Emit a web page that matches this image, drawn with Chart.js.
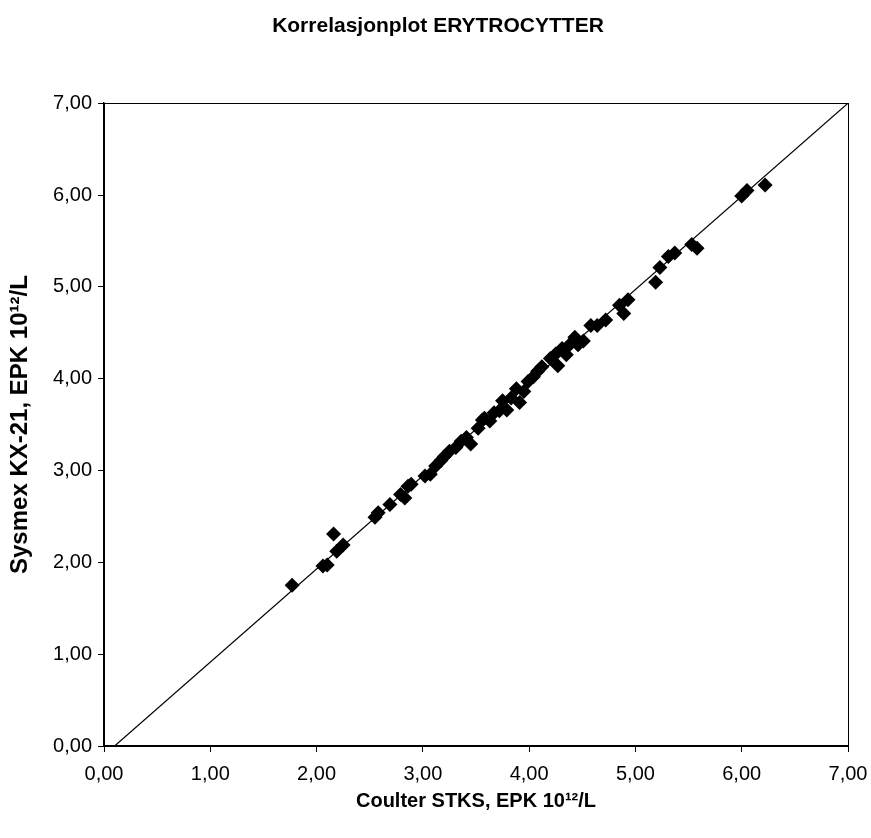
<!DOCTYPE html>
<html>
<head>
<meta charset="utf-8">
<script src="https://cdn.jsdelivr.net/npm/chart.js@4.4.1/dist/chart.umd.min.js"></script>
<style>
  html, body { margin: 0; padding: 0; background: #ffffff; }
  canvas { display: block; }
</style>
</head>
<body>
<canvas id="c" width="871" height="838"></canvas>
<script>
// Coulter STKS (x) vs Sysmex KX-21 (y), EPK 10^12/L
const coulterX = [1.77, 2.06, 2.10, 2.16, 2.19, 2.25, 2.55, 2.58, 2.69, 2.79, 2.83, 2.86, 2.89,
  3.02, 3.07, 3.12, 3.17, 3.20, 3.25, 3.31, 3.36, 3.41, 3.45, 3.52, 3.56, 3.58, 3.63, 3.67,
  3.72, 3.75, 3.79, 3.83, 3.88, 3.91, 3.95, 3.99, 4.04, 4.08, 4.12, 4.20, 4.25, 4.27, 4.31,
  4.35, 4.38, 4.43, 4.46, 4.51, 4.58, 4.64, 4.72, 4.85, 4.89, 4.93, 5.19, 5.23, 5.31, 5.37,
  5.53, 5.58, 6.00, 6.05, 6.22];
const sysmexY = [1.75, 1.96, 1.97, 2.31, 2.12, 2.19, 2.49, 2.54, 2.63, 2.74, 2.70, 2.83, 2.85,
  2.94, 2.96, 3.05, 3.11, 3.15, 3.21, 3.25, 3.32, 3.36, 3.29, 3.46, 3.55, 3.57, 3.54, 3.63,
  3.65, 3.76, 3.66, 3.79, 3.89, 3.74, 3.86, 3.97, 4.02, 4.08, 4.13, 4.22, 4.27, 4.14, 4.33,
  4.26, 4.37, 4.45, 4.37, 4.41, 4.58, 4.58, 4.64, 4.80, 4.71, 4.86, 5.05, 5.21, 5.33, 5.37,
  5.46, 5.42, 5.99, 6.05, 6.11];
// Fitted line end points
const lineX = [0.10, 7.00];
const lineY = [0.00, 7.00];
const tickValues = [0, 1, 2, 3, 4, 5, 6, 7];

const titleText = 'Korrelasjonplot ERYTROCYTTER';
const xTitle = 'Coulter STKS, EPK 10¹²/L';
const yTitle = 'Sysmex KX-21, EPK 10¹²/L';

const scatterData = coulterX.map((x, i) => ({ x: x, y: sysmexY[i] }));
const lineData = lineX.map((x, i) => ({ x: x, y: lineY[i] }));

const FONT = "'Liberation Sans', Arial, sans-serif";

const frame = {
  id: 'frame',
  afterDatasetsDraw(chart) {
    const a = chart.chartArea, ctx = chart.ctx;
    ctx.save();
    ctx.strokeStyle = '#000';
    ctx.lineWidth = 1;
    ctx.strokeRect(Math.round(a.left) + 0.5, Math.round(a.top) + 0.5,
      Math.round(a.right - a.left), Math.round(a.bottom - a.top));
    ctx.restore();
  }
};

const fmt = v => Number(v).toFixed(2).replace('.', ',');

new Chart(document.getElementById('c'), {
  type: 'scatter',
  data: {
    datasets: [
      {
        type: 'line',
        data: lineData,
        borderColor: '#000',
        borderWidth: 1.2,
        pointRadius: 0,
        fill: false,
        order: 2
      },
      {
        data: scatterData,
        pointStyle: 'rectRot',
        pointRadius: 7.5,
        pointHoverRadius: 7.5,
        backgroundColor: '#000',
        borderColor: '#000',
        borderWidth: 0,
        order: 1
      }
    ]
  },
  options: {
    responsive: false,
    animation: false,
    events: [],
    layout: { padding: { left: 5, right: 0, top: 0, bottom: 0 } },
    plugins: {
      legend: { display: false },
      tooltip: { enabled: false },
      title: {
        display: true,
        text: titleText,
        color: '#000',
        font: { family: FONT, size: 21, weight: 'bold' },
        padding: { top: 14, bottom: 64 }
      }
    },
    scales: {
      x: {
        type: 'linear',
        min: 0, max: 7,
        afterFit(s) { s.height = 92; s.paddingRight = 23; s.paddingLeft = 0; },
        afterBuildTicks(s) { s.ticks = tickValues.map(v => ({ value: v })); },
        border: { color: '#000', width: 1.5 },
        grid: { display: true, drawOnChartArea: false, drawTicks: true, tickLength: 6, color: '#000' },
        ticks: { color: '#000', font: { family: FONT, size: 20 }, padding: 10, maxRotation: 0, callback: fmt },
        title: {
          display: true, text: xTitle, color: '#000',
          font: { family: FONT, size: 20, weight: 'bold' },
          padding: { top: 4, bottom: 25 }
        }
      },
      y: {
        type: 'linear',
        min: 0, max: 7,
        afterFit(s) { s.width = 99; },
        afterBuildTicks(s) { s.ticks = tickValues.map(v => ({ value: v })); },
        border: { color: '#000', width: 1.5 },
        grid: { display: true, drawOnChartArea: false, drawTicks: true, tickLength: 6, color: '#000' },
        ticks: { color: '#000', font: { family: FONT, size: 20 }, padding: 6, callback: fmt },
        title: {
          display: true, text: yTitle, color: '#000',
          font: { family: FONT, size: 24, weight: 'bold' },
          padding: { top: 1, bottom: 0 }
        }
      }
    }
  },
  plugins: [frame]
});
</script>
</body>
</html>
